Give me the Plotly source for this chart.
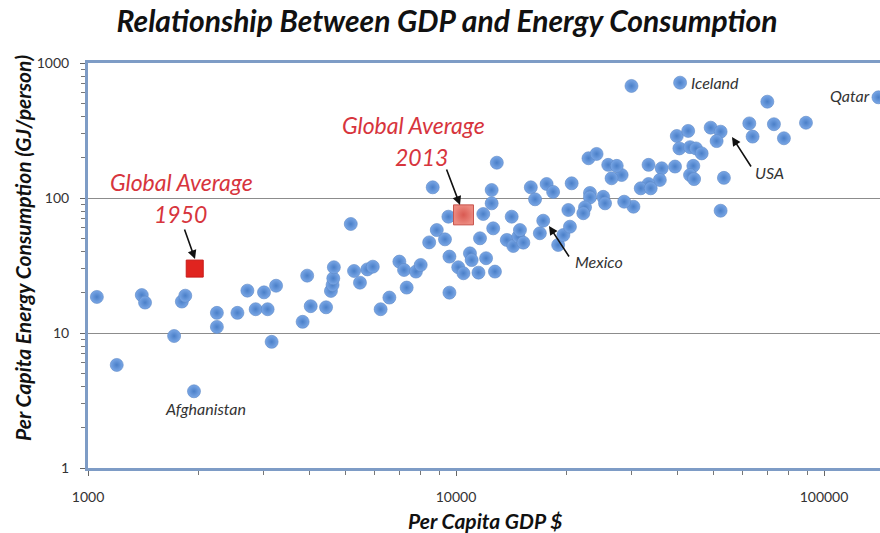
import plotly.graph_objects as go

# ---- data (per capita GDP $, per capita energy GJ/person) ----
country_gdp = [1057, 1197, 1400, 1429, 1714, 1799, 1838, 1941, 2240, 2240,
               2547, 2711, 2855, 3008, 3077, 3155, 3244, 3830, 3941, 4029,
               4435, 4572, 4620, 4640, 4657, 5177, 5284, 5483, 5741, 5942,
               6240, 6591, 7016, 7225, 7345, 7783, 8017, 8455, 8644, 8867,
               9334, 9535, 9597, 9597, 10140, 10477, 10913, 11030, 11510, 11620,
               11860, 12070, 12500, 12500, 12620, 12760, 12910, 13740, 14170, 14310,
               14770, 14920, 15240, 15970, 16400, 16900, 17260, 17630, 18360, 18950,
               19580, 20200, 20400, 20620, 29980, 40640, 70140, 140600, 62660, 63970,
               73100, 77820, 89330, 49210, 52370, 51070, 39810, 42750, 40460, 43250,
               44880, 46510, 44150, 43250, 44360, 53460, 52370, 39370, 36230, 33360,
               35800, 33360, 31770, 33810, 30350, 28640, 28190, 26470, 25920, 27340,
               22910, 24100, 23120, 23120, 25120, 25410, 22420, 22180]
country_energy = [18.5, 5.8, 19.1, 16.8, 9.5, 17.1, 18.9, 3.7, 14.1, 11.1,
                  14.1, 20.6, 15.0, 20.0, 15.0, 8.6, 22.4, 12.1, 26.6, 15.8,
                  15.5, 20.5, 22.7, 25.4, 30.7, 64.2, 28.8, 23.6, 29.6, 31.0,
                  15.0, 18.3, 33.8, 29.3, 21.7, 28.5, 31.9, 46.9, 120, 57.9,
                  49.4, 72.7, 36.8, 19.9, 30.7, 27.7, 38.9, 34.7, 28.0, 50.3,
                  76.1, 35.8, 91.3, 114.6, 59.6, 28.5, 182.6, 48.9, 72.7, 44.1,
                  51.7, 57.9, 46.7, 120, 97.8, 54.8, 67.9, 127, 111, 44.9,
                  53.2, 81.5, 61.3, 128.5, 676, 715, 517, 557, 357, 285,
                  352, 277, 361, 332, 310, 264, 288, 314, 233, 238,
                  233, 214, 173, 148, 138, 141, 80.5, 171, 166, 176,
                  136, 127, 118, 118, 86.2, 93.9, 148, 140, 176, 173,
                  197, 212, 109, 101, 102, 91.3, 85.3, 77.1]

avg1950_gdp = [1950]
avg1950_energy = [30]
avg2013_gdp = [10480]
avg2013_energy = [75]

y_tick_vals = [1, 10, 100, 1000]
y_tick_text = ["1", "10", "100", "1000"]
x_tick_vals = [1000, 10000, 100000]
x_tick_text = ["1000", "10000", "100000"]

# minor ticks 2..9 per decade
y_minor = [m * 10 ** d for d in range(0, 3) for m in range(2, 10)]
x_minor = [m * 10 ** d for d in range(3, 6) for m in range(2, 10)]

# ---- layout geometry ----
W, H = 880, 533
L, R, T, B = 88, 0, 63, 65
PW, PH = W - L - R, H - T - B


def px(x):
    return (x - L) / PW


def py(y):
    return (H - B - y) / PH


fig = go.Figure()

fig.add_trace(go.Scatter(
    x=country_gdp, y=country_energy, mode="markers",
    marker=dict(size=13, color="#7aa7e6", symbol="circle",
                gradient=dict(type="radial", color="#4a7fc8"),
                line=dict(width=0.6, color="#5a86c4")),
    hoverinfo="x+y", showlegend=False))

fig.add_trace(go.Scatter(
    x=avg1950_gdp, y=avg1950_energy, mode="markers",
    marker=dict(size=17, color="#e0241f", symbol="square",
                line=dict(width=1, color="#c81a18")),
    showlegend=False))

fig.add_trace(go.Scatter(
    x=avg2013_gdp, y=avg2013_energy, mode="markers",
    marker=dict(size=20, color="#ec8a80", symbol="square",
                gradient=dict(type="radial", color="#d95a52"),
                line=dict(width=1, color="#c8554e")),
    showlegend=False))

red = "#d7353d"
annots = []


def text_ann(x, y, text, size, color, style="italic", xanchor="center", weight="normal"):
    annots.append(dict(x=px(x), y=py(y), xref="paper", yref="paper", text=text,
                       showarrow=False, xanchor=xanchor, yanchor="middle",
                       font=dict(family="Lato", size=size, color=color,
                                 style=style, weight=weight)))


def arrow(x, y, ax, ay):
    annots.append(dict(x=px(x), y=py(y), xref="paper", yref="paper", text="",
                       showarrow=True, ax=ax - x, ay=ay - y, arrowhead=2,
                       arrowsize=1.1, arrowwidth=1.6, arrowcolor="#111"))


text_ann(181, 182, "Global Average", 23, red)
text_ann(180, 214, "1950", 23, red)
text_ann(413, 125, "Global Average", 23, red)
text_ann(421, 157, "2013", 23, red)
arrow(195, 259, 184, 228)
arrow(460, 205, 446, 168)

text_ann(689, 82, "Iceland", 16, "#333", xanchor="left")
text_ann(828, 95, "Qatar", 16, "#333", xanchor="left")
text_ann(753, 172, "USA", 16, "#333", xanchor="left")
text_ann(573, 261, "Mexico", 16, "#333", xanchor="left")
text_ann(205, 408, "Afghanistan", 16, "#333")
arrow(732, 137, 752, 168)
arrow(549, 226, 570, 258)

# axis titles
annots.append(dict(x=px(22), y=py(248), xref="paper", yref="paper",
                   xanchor="center", yanchor="middle", showarrow=False,
                   textangle=-90,
                   text="Per Capita Energy Consumption (GJ/person)",
                   font=dict(family="Lato", size=21, color="#111",
                             style="italic", weight="bold")))
annots.append(dict(x=px(485), y=py(520), xref="paper", yref="paper",
                   xanchor="center", yanchor="middle", showarrow=False,
                   text="Per Capita GDP $",
                   font=dict(family="Lato", size=21, color="#111",
                             style="italic", weight="bold")))

axis_blue = "#7e9cc6"
fig.update_layout(
    width=W, height=H,
    margin=dict(l=L, r=R, t=T, b=B, autoexpand=False),
    paper_bgcolor="white", plot_bgcolor="white",
    title=dict(text="Relationship Between GDP and Energy Consumption",
               x=447 / W, xanchor="center", y=1 - 21 / H, yanchor="middle",
               automargin=False,
               font=dict(family="Lato", size=30, color="#111",
                         style="italic", weight="bold")),
    annotations=annots,
    xaxis=dict(type="log", range=[3, 3 + PW / 368.0], automargin=False,
               tickmode="array", tickvals=x_tick_vals, ticktext=x_tick_text,
               showgrid=False, zeroline=False,
               showline=True, linecolor=axis_blue, linewidth=3, mirror=True,
               ticks="outside", ticklen=5, tickcolor="#666", tickwidth=1,
               ticklabelstandoff=9,
               minor=dict(tickmode="array", tickvals=x_minor, ticks="outside",
                          ticklen=4, tickcolor="#777", tickwidth=1, showgrid=False),
               tickfont=dict(family="Lato", size=14, color="#333")),
    yaxis=dict(type="log", range=[0, 3], automargin=False,
               tickmode="array", tickvals=y_tick_vals, ticktext=y_tick_text,
               showgrid=True, gridcolor="#8c8c8c", gridwidth=1, zeroline=False,
               showline=True, linecolor=axis_blue, linewidth=3,
               ticks="outside", ticklen=5, tickcolor="#666", tickwidth=1,
               ticklabelstandoff=8,
               minor=dict(tickmode="array", tickvals=y_minor, ticks="outside",
                          ticklen=4, tickcolor="#777", tickwidth=1, showgrid=False),
               tickfont=dict(family="Lato", size=14, color="#333")),
)

fig.write_html("out.html",
               config={"displayModeBar": False},
               post_script="document.body.style.margin='0';document.body.style.padding='0';")
